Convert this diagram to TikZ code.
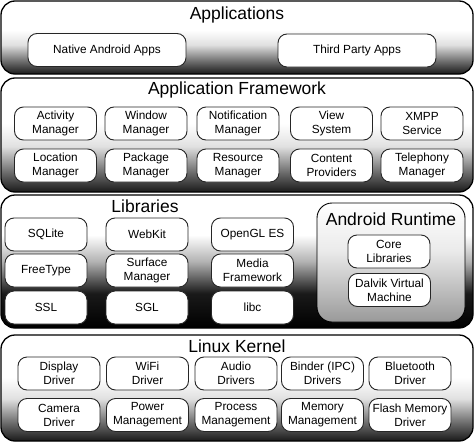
\documentclass[tikz,border=0pt]{standalone}
\usepackage{fontspec}
\setmainfont{Liberation Sans}
\pgfdeclareverticalshading{layershade}{100bp}{color(0bp)=(black); color(25bp)=(black!90); color(33bp)=(black!60); color(45bp)=(black!12); color(55bp)=(white); color(100bp)=(white)}
\pgfdeclareverticalshading{libshade}{100bp}{color(0bp)=(black); color(25bp)=(black); color(38bp)=(black!90); color(50bp)=(black!30); color(60bp)=(white); color(100bp)=(white)}
\pgfdeclareverticalshading{rtshade}{100bp}{color(0bp)=(black!40); color(25bp)=(black!40); color(55bp)=(black!8); color(75bp)=(white); color(100bp)=(white)}
\begin{document}
\begin{tikzpicture}[x=1pt,y=-1pt,
    layer/.style={draw=black,line width=1.3pt,rounded corners=14pt,shading=layershade},
    title/.style={font=\fontsize{17.5}{20}\selectfont},
    box/.style={draw=black!85,line width=0.9pt,fill=white,rounded corners=9pt,
      minimum width=82pt,minimum height=33pt,inner sep=0pt,align=center,
      font=\fontsize{11.8}{14}\selectfont},
    wide/.style={box,minimum width=158pt}]
  \useasboundingbox (0,0) rectangle (474,442);
  \path[layer] (1,1) rectangle (473,74);
  \path[layer] (1,78) rectangle (473,192);
  \path[layer,shading=libshade] (1,195) rectangle (473,328);
  \path[layer] (1,335) rectangle (473,441);
  \node[title] (appl) at (237,15) {Applications};
  \node[wide] (native) at (107,50) {Native Android Apps};
  \node[wide] (third) at (357,50.5) {Third Party Apps};
  \node[title] (frame) at (237,90) {Application Framework};
  \node[box] (activity) at (55.5,123.5) {Activity\\Manager};
  \node[box] (window) at (146,123.5) {Window\\Manager};
  \node[box] (notif) at (238,123.5) {Notification\\Manager};
  \node[box] (view) at (331.5,123.5) {View\\System};
  \node[box] (xmpp) at (422,123.5) {XMPP\\Service};
  \node[box] (location) at (55.5,165.5) {Location\\Manager};
  \node[box] (package) at (146,165.5) {Package\\Manager};
  \node[box] (resource) at (238,165.5) {Resource\\Manager};
  \node[box] (content) at (331.5,165.5) {Content\\Providers};
  \node[box] (telephony) at (422,165.5) {Telephony\\Manager};
  \node[title] (libs) at (145,206) {Libraries};
  \node[box] (sqlite) at (46,234.5) {SQLite};
  \node[box] (webkit) at (147,234.5) {WebKit};
  \node[box] (opengl) at (252.5,234.5) {OpenGL ES};
  \node[box] (freetype) at (46,270.5) {FreeType};
  \node[box] (surface) at (147,270.5) {Surface\\Manager};
  \node[box] (media) at (252.5,270.5) {Media\\Framework};
  \node[box] (ssl) at (46,307.5) {SSL};
  \node[box] (sgl) at (147,307.5) {SGL};
  \node[box] (libc) at (252.5,307.5) {libc};
  \node[draw=black,line width=0.9pt,rounded corners=15pt,shading=rtshade,
    minimum width=148pt,minimum height=119pt] (rt) at (391,262.5) {};
  \node[title] (rtt) at (391,219) {Android Runtime};
  \node[box] (core) at (389,251.5) {Core\\Libraries};
  \node[box] (dalvik) at (389.5,290) {Dalvik Virtual\\Machine};
  \node[title] (kern) at (237,346) {Linux Kernel};
  \node[box] (display) at (59,373.5) {Display\\Driver};
  \node[box] (wifi) at (147.5,373.5) {WiFi\\Driver};
  \node[box] (audio) at (236,373.5) {Audio\\Drivers};
  \node[box] (binder) at (322.5,373.5) {Binder (IPC)\\Drivers};
  \node[box] (bluetooth) at (410,373.5) {Bluetooth\\Driver};
  \node[box] (camera) at (59,415) {Camera\\Driver};
  \node[box] (power) at (147.5,415) {Power\\Management};
  \node[box] (process) at (236,415) {Process\\Management};
  \node[box] (memory) at (322.5,415) {Memory\\Management};
  \node[box] (flash) at (410,415) {Flash Memory\\Driver};
\end{tikzpicture}
\end{document}
